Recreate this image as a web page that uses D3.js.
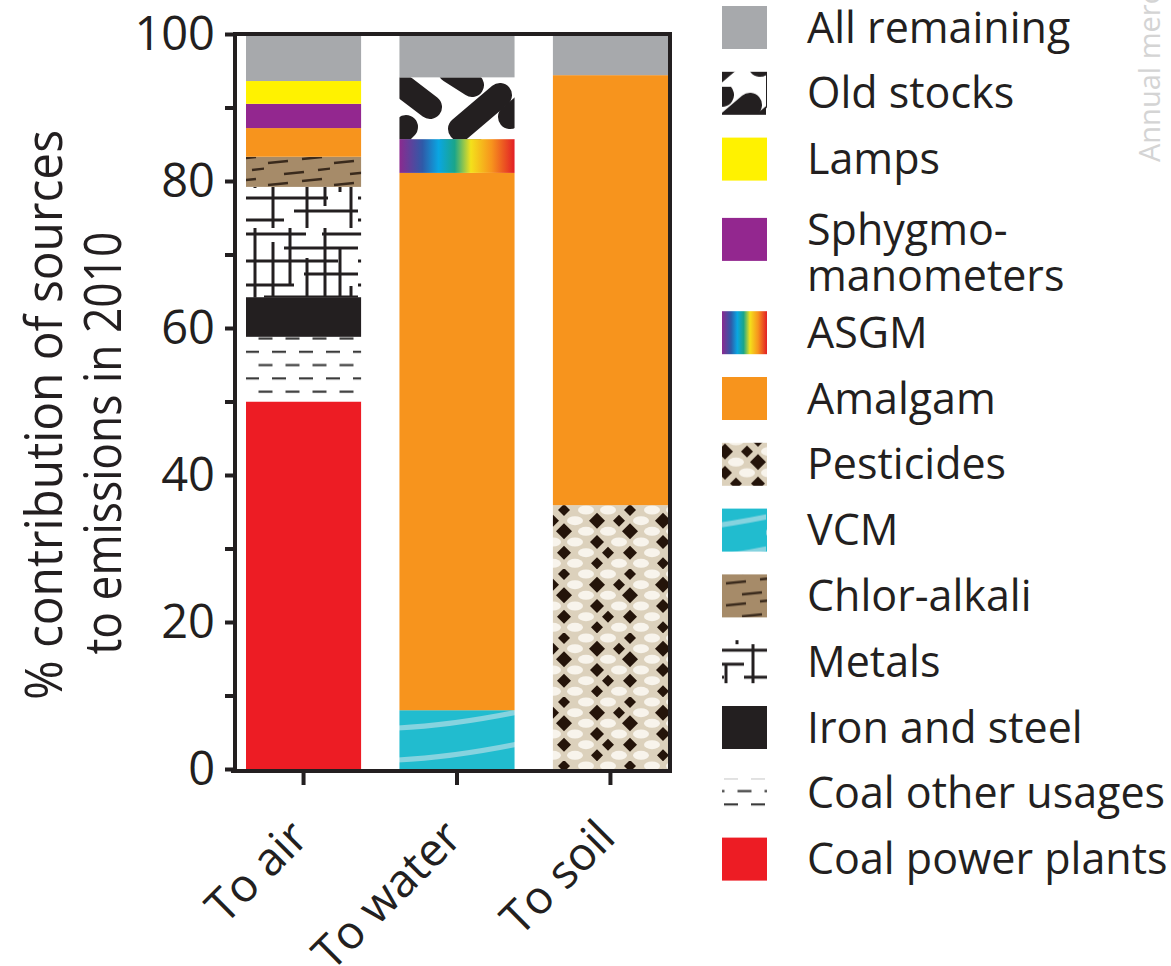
<!DOCTYPE html>
<html>
<head>
<meta charset="utf-8">
<script src="https://cdn.jsdelivr.net/npm/d3@7"></script>
<style>
  body { margin: 0; background: #fff; }
  text { font-family: "Open Sans", "Noto Sans", sans-serif; fill: #231f20; }
</style>
</head>
<body>
<div id="graph"></div>
<script>
// data (stack order bottom -> top)
var categories = ["To air", "To water", "To soil"];
var sources = ["Coal power plants", "Coal other usages", "Iron and steel", "Metals",
  "Chlor-alkali", "VCM", "Pesticides", "Amalgam", "ASGM", "Sphygmomanometers",
  "Lamps", "Old stocks", "All remaining"];
var toAir   = [50.0, 8.8, 5.4, 15.0, 4.1, 0, 0, 3.9, 0, 3.3, 3.1, 0, 6.4];
var toWater = [0, 0, 0, 0, 0, 8.0, 0, 73.1, 4.6, 0, 0, 8.4, 5.9];
var toSoil  = [0, 0, 0, 0, 0, 0, 35.9, 58.5, 0, 0, 0, 0, 5.6];
var yTicks = [0, 20, 40, 60, 80, 100];
var yMinor = [10, 30, 50, 70, 90];
// legend, top -> bottom
var legendItems = ["All remaining", "Old stocks", "Lamps", "Sphygmo-|manometers", "ASGM",
  "Amalgam", "Pesticides", "VCM", "Chlor-alkali", "Metals", "Iron and steel",
  "Coal other usages", "Coal power plants"];
var legendKeys = ["All remaining", "Old stocks", "Lamps", "Sphygmomanometers", "ASGM",
  "Amalgam", "Pesticides", "VCM", "Chlor-alkali", "Metals", "Iron and steel",
  "Coal other usages", "Coal power plants"];

var fills = {
  "Coal power plants": "#ed1c24",
  "Coal other usages": "url(#coalOther)",
  "Iron and steel": "#231f20",
  "Metals": "url(#metals)",
  "Chlor-alkali": "url(#chlor)",
  "VCM": "url(#vcm)",
  "Pesticides": "url(#pest)",
  "Amalgam": "#f7941d",
  "ASGM": "url(#asgm)",
  "Sphygmomanometers": "#93278f",
  "Lamps": "#fff200",
  "Old stocks": "url(#oldStocks)",
  "All remaining": "#a7a9ac"
};

var W = 1171, H = 966;
var ink = "#231f20";

var svg = d3.select("#graph").append("svg")
  .attr("width", W).attr("height", H);

var defs = svg.append("defs");

// coal other usages: staggered dashes
var p = defs.append("pattern").attr("id", "coalOther").attr("patternUnits", "userSpaceOnUse")
  .attr("width", 27).attr("height", 26.6);
p.append("rect").attr("width", 27).attr("height", 26.6).attr("fill", "#fff");
[[2, 16, 6], [15.5, 29.5, 19.3], [-11.5, 2.5, 19.3]].forEach(function(s) {
  p.append("line").attr("x1", s[0]).attr("x2", s[1]).attr("y1", s[2]).attr("y2", s[2])
    .attr("stroke", "#3a3a3a").attr("stroke-width", 2.2);
});

// metals: irregular grid of lines
p = defs.append("pattern").attr("id", "metals").attr("patternUnits", "userSpaceOnUse")
  .attr("x", 246).attr("y", 4).attr("width", 112).attr("height", 112);
p.append("rect").attr("width", 112).attr("height", 112).attr("fill", "#fff");
var hSegs = [[6, 0, 60], [6, 76, 112], [20, 38, 112], [33, 0, 92], [46, 58, 112], [57, 0, 48],
  [69, 18, 112], [82, 0, 82], [95, 48, 112], [104, 0, 38]];
var vSegs = [[9, 0, 72], [27, 14, 112], [44, 0, 56], [61, 30, 112], [79, 0, 90], [94, 20, 76], [105, 58, 112]];
hSegs.forEach(function(s) {
  p.append("line").attr("x1", s[1]).attr("x2", s[2]).attr("y1", s[0]).attr("y2", s[0])
    .attr("stroke", ink).attr("stroke-width", 3);
});
vSegs.forEach(function(s) {
  p.append("line").attr("x1", s[0]).attr("x2", s[0]).attr("y1", s[1]).attr("y2", s[2])
    .attr("stroke", ink).attr("stroke-width", 3);
});

// chlor-alkali: tan with dark dashes
p = defs.append("pattern").attr("id", "chlor").attr("patternUnits", "userSpaceOnUse")
  .attr("width", 66).attr("height", 22);
p.append("rect").attr("width", 66).attr("height", 22).attr("fill", "#a68b69");
[[4, 9, 24, 7], [38, 5, 58, 3], [20, 20, 40, 18], [54, 16, 72, 14]].forEach(function(s) {
  p.append("line").attr("x1", s[0]).attr("y1", s[1]).attr("x2", s[2]).attr("y2", s[3])
    .attr("stroke", "#3a2a1c").attr("stroke-width", 2.4);
});

// VCM: cyan with pale curved bands
p = defs.append("pattern").attr("id", "vcm").attr("patternUnits", "userSpaceOnUse")
  .attr("x", 398).attr("y", 706).attr("width", 118).attr("height", 32);
p.append("rect").attr("width", 118).attr("height", 32).attr("fill", "#21bccf");
p.append("path").attr("d", "M-2,22 Q50,20 120,6").attr("fill", "none")
  .attr("stroke", "#86d3df").attr("stroke-width", 5);

// pesticides: snake skin, dark scales mixed with pale ones
p = defs.append("pattern").attr("id", "pest").attr("patternUnits", "userSpaceOnUse")
  .attr("x", 553).attr("y", 505).attr("width", 66).attr("height", 64);
p.append("rect").attr("width", 66).attr("height", 64).attr("fill", "#dcd1bc");
var darkCells = [1, 0, 0, 0, 1, 1, 1, 0, 0, 0, 1, 0, 1, 0, 1, 0, 1, 0];
d3.range(6).forEach(function(j) {
  d3.range(3).forEach(function(k) {
    var cx = 11 + k * 22 + (j % 2 ? 11 : 0), cy = 5 + j * 10.67;
    [cx, cx - 66].forEach(function(px) {
      if (darkCells[j * 3 + k]) {
        var r = 6 + ((j + k) % 3);
        p.append("path")
          .attr("d", "M" + px + "," + (cy - r) + "L" + (px + r) + "," + cy +
            "L" + px + "," + (cy + r) + "L" + (px - r) + "," + cy + "Z")
          .attr("fill", "#24140a");
      } else {
        p.append("ellipse").attr("cx", px).attr("cy", cy).attr("rx", 8).attr("ry", 4.5)
          .attr("fill", "#f8f4ec");
      }
    });
  });
});

// old stocks: black capsules
p = defs.append("pattern").attr("id", "oldStocks").attr("patternUnits", "userSpaceOnUse")
  .attr("x", 398).attr("y", 77).attr("width", 118).attr("height", 62);
p.append("rect").attr("width", 118).attr("height", 62).attr("fill", "#fff");
[[-2, 4, 32, 30], [62, 52, 102, 18], [52, -6, 74, 8], [-12, 70, 8, 50], [112, 40, 124, 30]].forEach(function(s) {
  p.append("line").attr("x1", s[0]).attr("y1", s[1]).attr("x2", s[2]).attr("y2", s[3])
    .attr("stroke", ink).attr("stroke-width", 24).attr("stroke-linecap", "round");
});

// ASGM: rainbow
var g = defs.append("linearGradient").attr("id", "asgm");
[["0", "#8b2a8f"], ["0.2", "#2f5aa8"], ["0.34", "#0aa6e2"], ["0.48", "#1aa58a"],
 ["0.62", "#f4e11b"], ["0.8", "#f7941d"], ["1", "#e21f26"]].forEach(function(s) {
  g.append("stop").attr("offset", s[0]).attr("stop-color", s[1]);
});

// scales
var x = d3.scaleBand().domain(categories).range([246, 668]).paddingInner(0.25).paddingOuter(0);
var y = d3.scaleLinear().domain([0, 100]).range([769, 34]);

var rows = categories.map(function(c, i) {
  var row = { cat: c };
  var vals = [toAir, toWater, toSoil][i];
  sources.forEach(function(s, j) { row[s] = vals[j]; });
  return row;
});
var series = d3.stack().keys(sources)(rows);

svg.append("g").selectAll("g")
  .data(series)
  .enter().append("g")
  .attr("fill", function(d) { return fills[d.key]; })
  .selectAll("rect")
  .data(function(d) { return d.filter(function(v) { return v[1] - v[0] > 0; }); })
  .enter().append("rect")
  .attr("x", function(d) { return x(d.data.cat); })
  .attr("width", x.bandwidth())
  .attr("y", function(d) { return y(d[1]); })
  .attr("height", function(d) { return y(d[0]) - y(d[1]); });

// frame (top and right)
svg.append("path")
  .attr("d", "M233," + y(100) + "H670V" + (y(0) + 2))
  .attr("fill", "none").attr("stroke", ink).attr("stroke-width", 4);

// y axis
var yAxis = svg.append("g").attr("transform", "translate(235,0)")
  .call(d3.axisLeft(y).tickValues(yTicks).tickSize(10).tickPadding(10).tickFormat(d3.format("d")));
svg.append("g").attr("transform", "translate(235,0)")
  .call(d3.axisLeft(y).tickValues(yMinor).tickSize(10).tickFormat(""))
  .select(".domain").remove();

// x axis
var xAxis = svg.append("g").attr("transform", "translate(0,771)")
  .call(d3.axisBottom(x).tickSize(14).tickSizeOuter(0).tickFormat(""));

svg.selectAll(".domain").attr("stroke", ink).attr("stroke-width", 4);
svg.selectAll(".tick line").attr("stroke", ink).attr("stroke-width", 4);
xAxis.select(".domain").attr("d", "M231,0H672");
yAxis.select(".domain").attr("d", "M0," + (y(100) - 2) + "V" + (y(0) + 4));
yAxis.selectAll(".tick text")
  .style("font-family", "'Open Sans', sans-serif")
  .style("font-size", "47px").attr("fill", ink);

// category labels
svg.append("g").selectAll("text")
  .data(categories)
  .enter().append("text")
  .attr("transform", function(d) {
    return "translate(" + (x(d) + x.bandwidth() / 2 + 7) + ",840) rotate(-45)";
  })
  .attr("text-anchor", "end")
  .style("font-size", "46px")
  .text(function(d) { return d; });

// y title
svg.append("text")
  .attr("transform", "translate(62,415) rotate(-90)")
  .attr("text-anchor", "middle")
  .attr("textLength", 570).attr("lengthAdjust", "spacingAndGlyphs")
  .style("font-size", "52px")
  .text("% contribution of sources");
svg.append("text")
  .attr("transform", "translate(121,443) rotate(-90)")
  .attr("text-anchor", "middle")
  .attr("textLength", 423).attr("lengthAdjust", "spacingAndGlyphs")
  .style("font-size", "52px")
  .text("to emissions in 2010");

// legend
var pitch = 65.8;
var legend = svg.append("g").selectAll("g")
  .data(legendItems)
  .enter().append("g")
  .attr("transform", function(d, i) {
    var extra = i < 3 ? 0 : (i == 3 ? 14.5 : 42);
    return "translate(722," + (6 + i * pitch + extra) + ")";
  });
legend.append("rect")
  .attr("width", 45)
  .attr("height", function(d, i) { return legendKeys[i] == "Coal other usages" ? 30 : 43; })
  .attr("y", function(d, i) { return legendKeys[i] == "Coal other usages" ? 7 : 0; })
  .attr("fill", function(d, i) { return fills[legendKeys[i]]; });
legend.each(function(d) {
  var parts = d.split("|");
  var t = d3.select(this).append("text").attr("x", 85).style("font-size", "43px");
  if (parts.length == 1) {
    t.attr("y", 36.5).text(d);
  } else {
    t.append("tspan").attr("x", 85).attr("y", 27).text(parts[0]);
    t.append("tspan").attr("x", 85).attr("y", 73).text(parts[1]);
  }
});

// faint cropped side caption
svg.append("text")
  .attr("transform", "translate(1160,162) rotate(-90)")
  .style("font-size", "29px").style("fill", "#d4d4d4")
  .text("Annual mercury");
</script>
</body>
</html>
